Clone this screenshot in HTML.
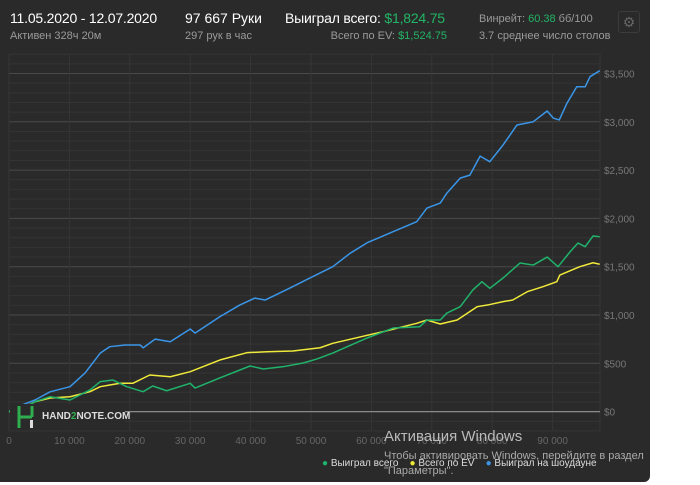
<!DOCTYPE html>
<html><head><meta charset="utf-8"><style>
body{margin:0;background:#fff;width:700px;height:485px;overflow:hidden;font-family:"Liberation Sans",sans-serif}
#panel{position:absolute;left:0;top:0;width:650px;height:482px;background:#2a2a2a;border-radius:0 0 6px 0}
.t{position:absolute;white-space:nowrap}
svg{position:absolute;left:0;top:0}
</style></head><body>
<div id="panel">
<div class="t" style="left:10px;top:10px;font-size:14px;color:#fff;letter-spacing:-0.2px">11.05.2020 - 12.07.2020</div>
<div class="t" style="left:10px;top:30px;font-size:11px;color:#9a9a9a">Активен 328ч 20м</div>
<div class="t" style="left:185px;top:10px;font-size:14px;color:#fff">97 667 Руки</div>
<div class="t" style="left:185px;top:30px;font-size:11px;color:#9a9a9a">297 рук в час</div>
<div class="t" style="left:285px;top:10px;font-size:14px;color:#fff;letter-spacing:-0.2px">Выиграл всего: <span style="color:#22b566">$1,824.75</span></div>
<div class="t" style="right:203px;top:30px;font-size:11px;color:#9a9a9a">Всего по EV: <span style="color:#22b566">$1,524.75</span></div>
<div class="t" style="left:479px;top:13px;font-size:11px;color:#9a9a9a">Винрейт: <span style="color:#22b566">60.38</span> бб/100</div>
<div class="t" style="left:479px;top:30px;font-size:11px;color:#9a9a9a">3.7 среднее число столов</div>
<div style="position:absolute;left:618px;top:11px;width:20px;height:20px;border:1px solid #3c3c3c;border-radius:3px;color:#666;font-size:14px;text-align:center;line-height:20px">⚙</div>
</div>
<svg id="chart" width="700" height="485"></svg>
<script>
const hands=[0,1.8,4.3,6.8,10.1,12.6,15.1,16.7,19.2,21.7,22.2,24.2,26.7,30,30.8,34.9,38.2,40.7,42.4,46.5,49.8,53.6,56.5,59.3,63.1,67.5,69.2,71.4,72.5,74.7,76.3,78,79.6,81.8,84.1,86.8,89.1,90.1,91.1,92.4,94,95.4,96.2,97.8];
const showdown=[0,60,120,205,258,400,605,672,690,690,660,750,723,855,813,982,1103,1175,1155,1279,1382,1500,1640,1748,1849,1966,2107,2159,2262,2417,2448,2645,2587,2760,2967,3001,3112,3039,3019,3195,3363,3363,3467,3529];
const wonHands=[0,1.8,4.3,6.8,10.1,13.4,15.1,17.2,19.5,22.2,23.8,26.1,30,30.8,34.9,39.9,42.1,45.4,48.7,51,53.6,59.3,63.6,68,69.2,71.4,72.5,74.7,76.8,78.3,79.6,81.8,84.6,86.8,89.1,90.9,92.9,94.2,95.4,96.7,97.8];
const won=[0,20,102,154,120,224,310,327,258,206,265,216,293,244,348,472,441,465,503,545,606,762,865,879,948,948,1020,1086,1259,1345,1276,1383,1538,1517,1600,1500,1655,1745,1707,1818,1810];
const evHands=[0,1.8,4.3,6.8,10.1,13.4,15.1,16.7,18.4,20.5,23.3,26.7,30,34.9,39.4,42.7,47,51.5,53.6,61.9,67.5,69.2,71.4,74.2,77.5,79.2,81.8,83.4,85.8,88.4,90.7,91.2,94.5,96.7,97.8];
const ev=[0,20,102,141,154,206,258,275,293,293,379,361,413,534,610,620,627,661,707,827,914,948,907,948,1086,1103,1138,1155,1241,1293,1345,1414,1500,1541,1525];
const xTicks=[0,10000,20000,30000,40000,50000,60000,70000,80000,90000];
const xTickLabels=["0","10 000","20 000","30 000","40 000","50 000","60 000","70 000","80 000","90 000"];
const yTicks=[0,500,1000,1500,2000,2500,3000,3500];
const yTickLabels=["$0","$500","$1,000","$1,500","$2,000","$2,500","$3,000","$3,500"];

const X=h=>9+h*0.00604, Y=v=>411.6-v*0.0966;
const svg=document.getElementById('chart'), NS='http://www.w3.org/2000/svg';
function mk(t,a,p){const e=document.createElementNS(NS,t);for(const k in a)e.setAttribute(k,a[k]);(p||svg).appendChild(e);return e;}
for(let v=-200;v<=3700;v+=100){const l=mk('line',{x1:9,x2:600,y1:Y(v),y2:Y(v),stroke:(v%500===0)?'#4a4a4a':'#343434','stroke-width':1});

}
xTicks.forEach((t,i)=>{const l=mk('line',{x1:X(t),x2:X(t),y1:54,y2:431,stroke:'#353535'});


const tx=mk('text',{x:X(t),y:444,fill:'#666','font-size':10,'text-anchor':'middle','font-family':'Liberation Sans'});tx.textContent=xTickLabels[i];

});
mk('line',{x1:600,x2:600,y1:54,y2:431,stroke:'#353535'});
yTicks.forEach((t,i)=>{const tx=mk('text',{x:604,y:Y(t)+4,fill:'#777','font-size':10,'font-family':'Liberation Sans'});tx.textContent=yTickLabels[i];

});
const zero=mk('line',{x1:9,x2:600,y1:Y(0),y2:Y(0),stroke:'#8a8a8a','stroke-width':1.3});


function series(hs,vs,c,n){const p=mk('polyline',{points:hs.map((h,i)=>X(h*1000)+','+Y(vs[i])).join(' '),fill:'none',stroke:c,'stroke-width':1.5,'stroke-linejoin':'round'});

}
series(hands,showdown,'#3a96e8','showdown-line');
series(evHands,ev,'#f0ea3a','ev-line');
series(wonHands,won,'#1fb36b','won-line');
</script>
<div style="position:absolute;left:10px;top:404px;width:115px;height:26px;background:#2a2a2a">
<svg width="30" height="26" style="position:absolute;left:6px;top:0"><path d="M3 2V24M3 13H16M16 13V2" stroke="#2fae4f" stroke-width="3" fill="none"/><rect x="14" y="16" width="3" height="8" fill="#ddd"/></svg>
<div class="t" style="left:32px;top:7px;font-size:10px;font-weight:bold;color:#ddd">HAND<span style="color:#2fae4f">2</span>NOTE.COM</div></div>
<div class="t" style="left:384px;top:428px;font-size:15px;color:#bbb">Активация Windows</div>
<div class="t" style="left:384px;top:449px;font-size:11px;color:#aaa;line-height:15px">Чтобы активировать Windows, перейдите в раздел<br>"Параметры".</div>
<div class="t" style="left:322px;top:458px;font-size:10px;color:#ddd">
<span><span style="color:#1fb36b">●</span> Выиграл всего</span>&nbsp;&nbsp;&nbsp;
<span><span style="color:#f0ea3a">●</span> Всего по EV</span>&nbsp;&nbsp;&nbsp;
<span><span style="color:#3a96e8">●</span> Выиграл на шоудауне</span></div>
</body></html>
